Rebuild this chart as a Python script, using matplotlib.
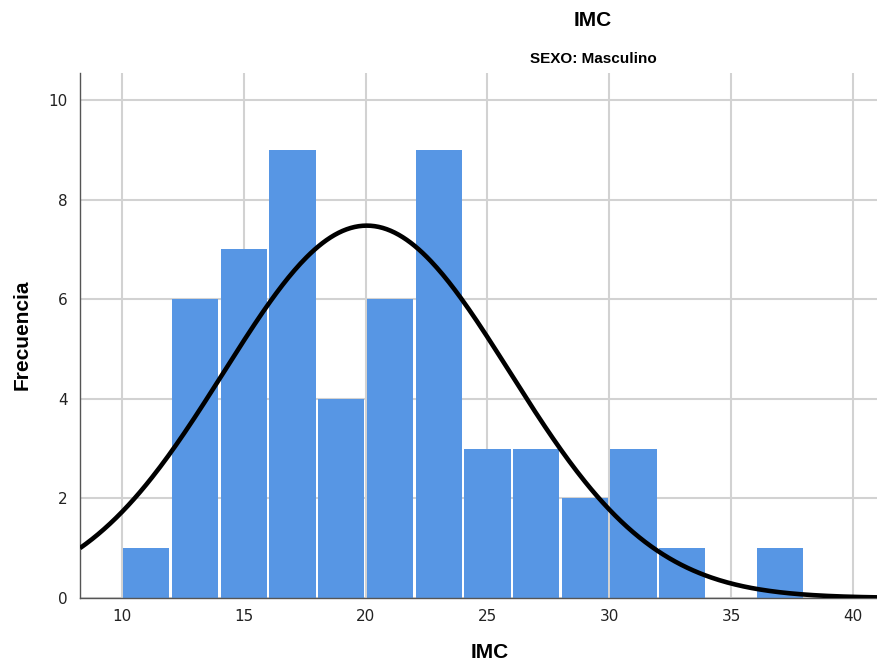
import numpy as np
import matplotlib
matplotlib.use("Agg")
import matplotlib.pyplot as plt

# Datos del histograma (IMC, SEXO: Masculino)
bin_edges = [10, 12, 14, 16, 18, 20, 22, 24, 26, 28, 30, 32, 34, 36, 38]
counts = [1, 6, 7, 9, 4, 6, 9, 3, 3, 2, 3, 1, 0, 1]
mean_imc = 20.05
sd_imc = 5.87

bar_color = "#5796e4"
grid_color = "#d2d2d2"

fig = plt.figure(figsize=(8.78, 6.61), dpi=100)
ax = fig.add_axes([80 / 878, 1 - 598 / 661, 798 / 878, 525 / 661])

left = np.array(bin_edges[:-1])
widths = np.diff(bin_edges)
gap = 0.1
ax.bar(left + gap / 2, counts, width=widths - gap, align="edge",
       color=bar_color, edgecolor="none", zorder=2)

# Curva normal
n = sum(counts)
bw = widths[0]
xs = np.linspace(8.28, 41.1, 400)
ys = n * bw / (sd_imc * np.sqrt(2 * np.pi)) * np.exp(-0.5 * ((xs - mean_imc) / sd_imc) ** 2)
ax.plot(xs, ys, color="black", lw=3.3, zorder=3, solid_capstyle="butt")

ax.set_xlim(8.28, 41.03)
ax.set_ylim(0, 10.54)
ax.set_xticks([10, 15, 20, 25, 30, 35, 40])
ax.set_yticks([0, 2, 4, 6, 8, 10])
ax.grid(True, color=grid_color, lw=1.5, zorder=0)
ax.set_axisbelow(True)

for s in ["top", "right"]:
    ax.spines[s].set_visible(False)
for s in ["left", "bottom"]:
    ax.spines[s].set_color("#555555")
    ax.spines[s].set_linewidth(1.0)
ax.tick_params(length=0, labelsize=11, colors="#222222", pad=9)
ax.tick_params(axis="x", pad=8)

fig.text(22 / 878, 1 - 335 / 661, "Frecuencia", rotation=90, ha="center", va="center",
         fontsize=15, fontweight="bold", family="Liberation Sans")
fig.text(490 / 878, 1 - 652 / 661, "IMC", ha="center", va="center",
         fontsize=15, fontweight="bold", family="Liberation Sans")
fig.text(593 / 878, 1 - 21 / 661, "IMC", ha="center", va="center",
         fontsize=15, fontweight="bold", family="Liberation Sans")
fig.text(593 / 878, 1 - 59 / 661, "SEXO: Masculino", ha="center", va="center",
         fontsize=11, fontweight="bold", family="Liberation Sans")

fig.savefig("out.png", dpi=100)
